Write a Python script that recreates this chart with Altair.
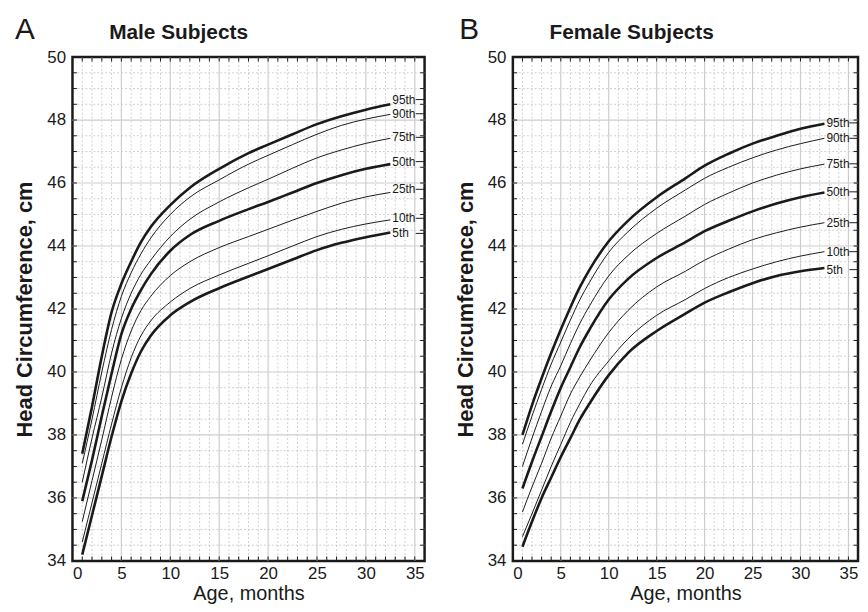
import altair as alt
import pandas as pd

# ---------------- data ----------------
months = [1, 2, 3, 4, 5, 6, 7, 8, 10, 12, 15, 18, 20, 22.5, 25, 27.5, 30, 32.5]
percentiles = ["95th", "90th", "75th", "50th", "25th", "10th", "5th"]

male_p95 = [37.4, 38.9, 40.5, 41.9, 42.8, 43.5, 44.12, 44.6, 45.3, 45.85, 46.45, 46.95, 47.22, 47.55, 47.87, 48.12, 48.33, 48.5]
male_p90 = [37.1, 38.5, 40.0, 41.35, 42.4, 43.15, 43.75, 44.25, 45.0, 45.55, 46.1, 46.6, 46.88, 47.22, 47.55, 47.83, 48.03, 48.18]
male_p75 = [36.5, 37.9, 39.2, 40.6, 41.7, 42.5, 43.1, 43.55, 44.3, 44.85, 45.4, 45.85, 46.12, 46.47, 46.8, 47.05, 47.26, 47.42]
male_p50 = [35.9, 37.2, 38.6, 39.95, 41.2, 42.0, 42.6, 43.1, 43.85, 44.35, 44.8, 45.17, 45.4, 45.7, 46.0, 46.25, 46.45, 46.6]
male_p25 = [35.25, 36.55, 37.85, 39.2, 40.4, 41.3, 41.95, 42.4, 43.06, 43.5, 43.95, 44.3, 44.53, 44.82, 45.1, 45.36, 45.56, 45.7]
male_p10 = [34.6, 35.85, 37.1, 38.35, 39.5, 40.45, 41.15, 41.62, 42.22, 42.65, 43.08, 43.45, 43.69, 44.0, 44.3, 44.53, 44.7, 44.83]
male_p5 = [34.2, 35.45, 36.7, 37.95, 39.07, 39.95, 40.65, 41.15, 41.8, 42.22, 42.66, 43.03, 43.27, 43.57, 43.87, 44.1, 44.28, 44.43]

female_p95 = [38.0, 38.95, 39.8, 40.6, 41.35, 42.05, 42.7, 43.25, 44.15, 44.8, 45.55, 46.15, 46.55, 46.93, 47.25, 47.5, 47.72, 47.88]
female_p90 = [37.7, 38.6, 39.45, 40.25, 40.95, 41.65, 42.3, 42.85, 43.8, 44.45, 45.2, 45.78, 46.15, 46.5, 46.8, 47.05, 47.25, 47.42]
female_p75 = [37.0, 37.9, 38.75, 39.55, 40.2, 40.9, 41.55, 42.1, 43.05, 43.7, 44.4, 44.95, 45.32, 45.68, 46.0, 46.25, 46.45, 46.6]
female_p50 = [36.3, 37.15, 37.95, 38.75, 39.5, 40.15, 40.8, 41.35, 42.3, 42.95, 43.62, 44.12, 44.47, 44.8, 45.1, 45.35, 45.55, 45.7]
female_p25 = [35.55, 36.35, 37.1, 37.9, 38.6, 39.3, 39.85, 40.35, 41.25, 41.95, 42.7, 43.2, 43.55, 43.9, 44.2, 44.42, 44.6, 44.74]
female_p10 = [34.77, 35.5, 36.25, 37.0, 37.7, 38.4, 39.0, 39.55, 40.35, 41.05, 41.8, 42.3, 42.65, 43.0, 43.27, 43.5, 43.68, 43.82]
female_p5 = [34.45, 35.25, 36.0, 36.65, 37.3, 37.9, 38.5, 39.0, 39.9, 40.6, 41.3, 41.85, 42.2, 42.53, 42.82, 43.05, 43.2, 43.3]

male_label_y = [48.65, 48.2, 47.45, 46.68, 45.8, 44.88, 44.4]
female_label_y = [47.91, 47.42, 46.61, 45.72, 44.74, 43.82, 43.25]

x_ticks = [0, 5, 10, 15, 20, 25, 30, 35]
y_ticks = [34, 36, 38, 40, 42, 44, 46, 48, 50]

FONT = "Liberation Sans"
INK = "#1a1a1a"
PW_L, PW_R, PH = 355, 348, 508


def long_table(series):
    rows = []
    for name, vals in zip(percentiles, series):
        for m, v in zip(months, vals):
            rows.append({"month": m, "hc": v, "pct": name,
                         "w": "thick" if name in ("95th", "50th", "5th") else "thin"})
    return pd.DataFrame(rows)


xs = alt.Scale(domain=[0, 36], nice=False, zero=False)
ys = alt.Scale(domain=[34, 50], nice=False, zero=False)

xax = alt.Axis(values=x_ticks, ticks=False, domain=False, grid=False,
               labelFontSize=17, labelPadding=5, labelColor=INK,
               title="Age, months", titleFontSize=20, titleFontWeight="normal",
               titleColor=INK, titlePadding=2)
yax = alt.Axis(values=y_ticks, ticks=False, domain=False, grid=False,
               labelFontSize=17, labelPadding=7, labelColor=INK,
               minExtent=26, maxExtent=26,
               title="Head Circumference, cm", titleFontSize=22,
               titleFontWeight="bold", titleColor=INK, titlePadding=10)


def X(field):
    return alt.X(field, scale=xs, axis=xax)


def Y(field):
    return alt.Y(field, scale=ys, axis=yax)


def panel(series, label_y, letter, letter_x, title, pw):
    df = long_table(series)

    minor_x = pd.DataFrame({"v": [m for m in range(1, 36) if m % 5 != 0]})
    major_x = pd.DataFrame({"v": [5, 10, 15, 20, 25, 30, 35]})
    minor_y = pd.DataFrame({"v": [34 + 0.5 * i for i in range(1, 32) if (i % 4) != 0]})
    major_y = pd.DataFrame({"v": [36, 38, 40, 42, 44, 46, 48]})

    grid_minor_x = alt.Chart(minor_x).mark_rule(color="#c4c4c4", strokeDash=[2, 2], strokeWidth=0.8).encode(
        x=X("v:Q"))
    grid_minor_y = alt.Chart(minor_y).mark_rule(color="#c4c4c4", strokeDash=[2, 2], strokeWidth=0.8).encode(
        y=Y("v:Q"))
    grid_major_x = alt.Chart(major_x).mark_rule(color="#cdcdcd", strokeWidth=1.2).encode(
        x=X("v:Q"))
    grid_major_y = alt.Chart(major_y).mark_rule(color="#cdcdcd", strokeWidth=1.2).encode(
        y=Y("v:Q"))

    # inward ticks on all four sides
    yt = [34 + 0.5 * i for i in range(1, 32)]
    tick_y = pd.DataFrame({"v": yt * 2,
                           "a": [0] * len(yt) + [35.55] * len(yt),
                           "b": [0.45] * len(yt) + [36] * len(yt)})
    xt = list(range(1, 36))
    tick_x = pd.DataFrame({"v": xt * 2,
                           "a": [34] * len(xt) + [49.86] * len(xt),
                           "b": [34.14] * len(xt) + [50] * len(xt)})
    ticks_y = alt.Chart(tick_y).mark_rule(color=INK, strokeWidth=1).encode(
        y=Y("v:Q"), x=X("a:Q"), x2="b:Q")
    ticks_x = alt.Chart(tick_x).mark_rule(color=INK, strokeWidth=1).encode(
        x=X("v:Q"), y=Y("a:Q"), y2="b:Q")

    curves = alt.Chart(df).mark_line(color=INK, interpolate="monotone").encode(
        x=X("month:Q"),
        y=Y("hc:Q"),
        detail="pct:N",
        strokeWidth=alt.StrokeWidth("w:N", scale=alt.Scale(domain=["thick", "thin"], range=[2.6, 1.0]),
                                    legend=None),
    )

    lab = pd.DataFrame({"pct": percentiles, "y": label_y, "x": [32.7] * 7,
                        "a": [35.1] * 7, "b": [36] * 7})
    labels = alt.Chart(lab).mark_text(align="left", baseline="middle", fontSize=12,
                                      color=INK, font=FONT).encode(
        x=X("x:Q"), y=Y("y:Q"), text="pct:N")
    leaders = alt.Chart(lab).mark_rule(color=INK, strokeWidth=1).encode(
        x=X("a:Q"), x2="b:Q", y=Y("y:Q"))

    head = pd.DataFrame({"t": [letter]})
    letter_mark = alt.Chart(head).mark_text(align="left", baseline="top", fontSize=30,
                                            color=INK, font=FONT).encode(
        text="t:N", x=alt.value(letter_x), y=alt.value(-42))
    sub = pd.DataFrame({"t": [title]})
    title_mark = alt.Chart(sub).mark_text(align="left", baseline="alphabetic", fontSize=21,
                                          fontWeight="bold", color=INK, font=FONT).encode(
        text="t:N", x=alt.value(37), y=alt.value(-18))

    return alt.layer(grid_minor_x, grid_minor_y, grid_major_x, grid_major_y,
                     ticks_y, ticks_x, curves, labels, leaders,
                     letter_mark, title_mark).properties(width=pw, height=PH)


male_series = [male_p95, male_p90, male_p75, male_p50, male_p25, male_p10, male_p5]
female_series = [female_p95, female_p90, female_p75, female_p50, female_p25, female_p10, female_p5]

left = panel(male_series, male_label_y, "A", -58, "Male Subjects", PW_L)
right = panel(female_series, female_label_y, "B", -54, "Female Subjects", PW_R)

chart = alt.hconcat(left, right, spacing=26).properties(
    padding={"left": 4, "top": 3, "right": 0, "bottom": 0}
).configure(font=FONT).configure_view(stroke=INK, strokeWidth=2.5)

chart.save("out.html", embed_options={"renderer": "svg", "actions": False})
